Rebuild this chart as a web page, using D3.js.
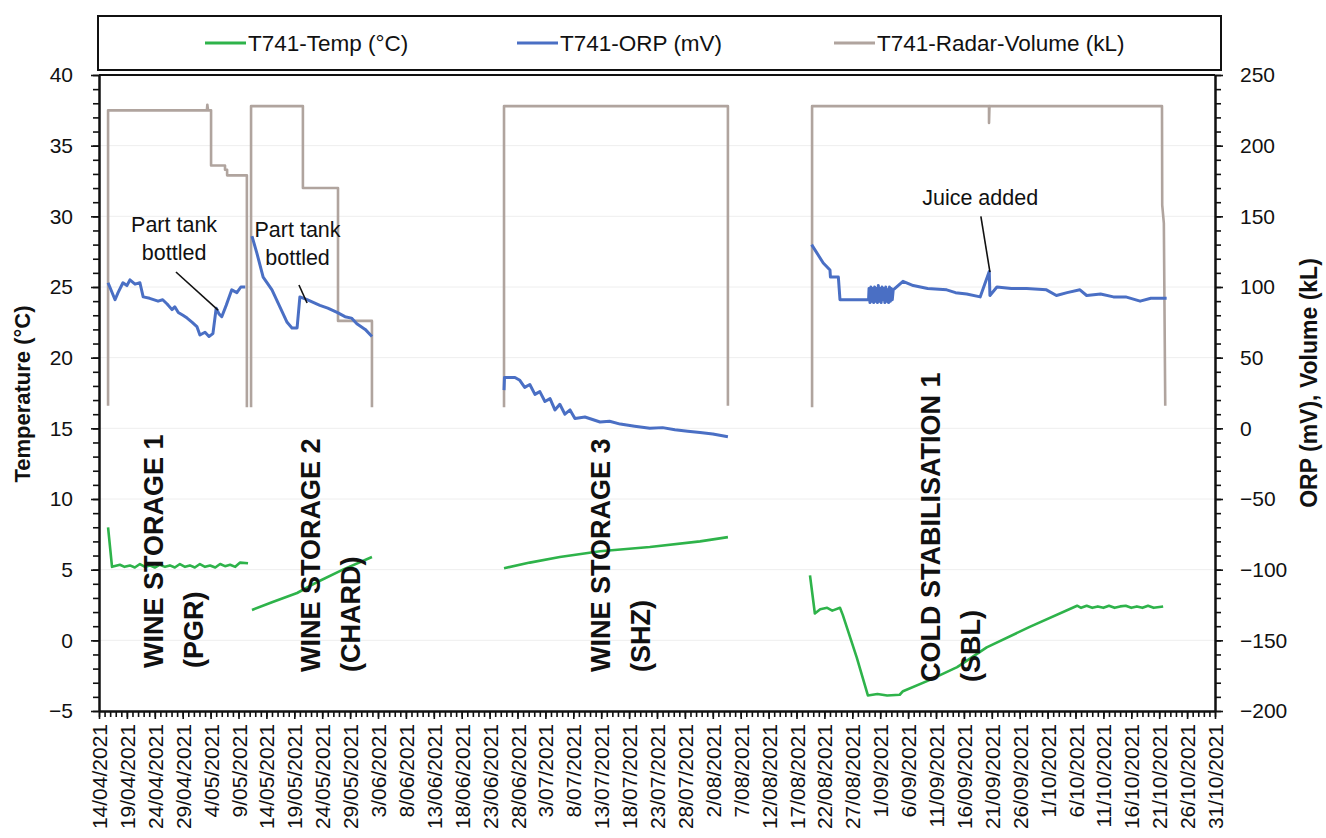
<!DOCTYPE html>
<html><head><meta charset="utf-8">
<script src="https://cdn.jsdelivr.net/npm/d3@7"></script>
<style>
body{margin:0;background:#fff;}
text{font-family:"Liberation Sans",Arial,Helvetica,sans-serif;fill:#111;}
</style>
</head><body>
<svg id="c" width="1326" height="838"></svg>
<script>
// ---------- DATA ----------
const xTickLabels = ["14/04/2021","19/04/2021","24/04/2021","29/04/2021","4/05/2021","9/05/2021","14/05/2021","19/05/2021","24/05/2021","29/05/2021","3/06/2021","8/06/2021","13/06/2021","18/06/2021","23/06/2021","28/06/2021","3/07/2021","8/07/2021","13/07/2021","18/07/2021","23/07/2021","28/07/2021","2/08/2021","7/08/2021","12/08/2021","17/08/2021","22/08/2021","27/08/2021","1/09/2021","6/09/2021","11/09/2021","16/09/2021","21/09/2021","26/09/2021","1/10/2021","6/10/2021","11/10/2021","16/10/2021","21/10/2021","26/10/2021","31/10/2021"];
const tempTicks = [-5,0,5,10,15,20,25,30,35,40];
const orpTicks = [-200,-150,-100,-50,0,50,100,150,200,250];
const seriesNames = ["T741-Temp (°C)","T741-ORP (mV)","T741-Radar-Volume (kL)"];

// Temperature (°C) segments
const tempWS1 = [["2021-04-15T15:00",8.0],["2021-04-16T08:00",5.2],["2021-04-17T18:00",5.35],["2021-04-18T14:00",5.2],["2021-04-19T13:00",5.3],["2021-04-20T10:00",5.15],["2021-04-21T08:00",5.4],["2021-04-22T06:00",5.2],["2021-04-23T03:00",5.3],["2021-04-24T00:00",5.15],["2021-04-24T22:00",5.35],["2021-04-25T20:00",5.2],["2021-04-26T17:00",5.3],["2021-04-27T14:00",5.15],["2021-04-28T12:00",5.4],["2021-04-29T10:00",5.2],["2021-04-30T07:00",5.3],["2021-05-01T04:00",5.15],["2021-05-02T02:00",5.4],["2021-05-03T00:00",5.2],["2021-05-03T22:00",5.3],["2021-05-04T20:00",5.15],["2021-05-05T17:00",5.4],["2021-05-06T14:00",5.25],["2021-05-07T12:00",5.35],["2021-05-08T10:00",5.2],["2021-05-09T07:00",5.5],["2021-05-10T17:00",5.45]];
const tempWS2 = [["2021-05-11T10:00",2.15],["2021-05-15T00:00",2.7],["2021-05-19T12:00",3.35],["2021-05-23T12:00",4.2],["2021-05-27T17:00",5.0],["2021-06-01T22:00",5.9]];
const tempWS3 = [["2021-06-25T14:00",5.1],["2021-06-30T05:00",5.5],["2021-07-05T14:00",5.9],["2021-07-12T19:00",6.3],["2021-07-21T17:00",6.6],["2021-07-30T17:00",7.0],["2021-08-04T17:00",7.3]];
const tempCS1 = [["2021-08-19T10:00",4.6],["2021-08-20T07:00",1.9],["2021-08-21T06:00",2.2],["2021-08-22T12:00",2.3],["2021-08-23T10:00",2.1],["2021-08-24T19:00",2.3],["2021-08-25T07:00",1.8],["2021-08-27T19:00",-1.2],["2021-08-29T19:00",-3.9],["2021-08-31T12:00",-3.8],["2021-09-02T06:00",-3.9],["2021-09-04T12:00",-3.85],["2021-09-05T02:00",-3.6],["2021-09-09T22:00",-2.8],["2021-09-14T19:00",-1.9],["2021-09-20T02:00",-0.5],["2021-09-27T19:00",0.95],["2021-10-06T07:00",2.45],["2021-10-07T00:00",2.3],["2021-10-08T00:00",2.45],["2021-10-09T00:00",2.3],["2021-10-10T00:00",2.4],["2021-10-11T00:00",2.3],["2021-10-12T00:00",2.45],["2021-10-13T00:00",2.3],["2021-10-14T00:00",2.4],["2021-10-15T00:00",2.45],["2021-10-16T00:00",2.3],["2021-10-17T00:00",2.4],["2021-10-18T00:00",2.3],["2021-10-19T00:00",2.45],["2021-10-20T00:00",2.3],["2021-10-21T17:00",2.4]];

// ORP (mV) segments
const orpWS1 = [["2021-04-15T15:00",103],["2021-04-16T21:00",91],["2021-04-17T10:00",96],["2021-04-18T07:00",103],["2021-04-19T00:00",101],["2021-04-19T13:00",105],["2021-04-20T11:00",102],["2021-04-21T08:00",103],["2021-04-21T22:00",93],["2021-04-23T02:00",92],["2021-04-24T14:00",90],["2021-04-25T10:00",91],["2021-04-26T05:00",88],["2021-04-27T02:00",84],["2021-04-27T14:00",86],["2021-04-28T05:00",82],["2021-04-29T01:00",80],["2021-04-29T19:00",78],["2021-04-30T17:00",75],["2021-05-01T13:00",72],["2021-05-02T02:00",66],["2021-05-03T00:00",68],["2021-05-03T17:00",65],["2021-05-04T10:00",67],["2021-05-05T00:00",85],["2021-05-05T12:00",81],["2021-05-06T00:00",79],["2021-05-06T19:00",87],["2021-05-07T19:00",98],["2021-05-08T17:00",96],["2021-05-09T10:00",100],["2021-05-10T05:00",100]];
const orpWS2 = [["2021-05-11T10:00",136],["2021-05-12T07:00",124],["2021-05-13T10:00",107],["2021-05-15T00:00",98],["2021-05-16T10:00",86],["2021-05-17T17:00",75],["2021-05-18T14:00",71],["2021-05-19T12:00",71],["2021-05-20T00:00",93],["2021-05-21T07:00",91],["2021-05-23T14:00",87],["2021-05-25T00:00",85],["2021-05-26T16:00",82],["2021-05-28T02:00",79],["2021-05-29T06:00",78],["2021-05-30T05:00",74],["2021-05-31T17:00",70],["2021-06-01T22:00",65]];
const orpWS3 = [["2021-06-25T14:00",27],["2021-06-25T16:00",36],["2021-06-27T13:00",36],["2021-06-28T10:00",34],["2021-06-29T07:00",29],["2021-06-30T05:00",31],["2021-07-01T03:00",24],["2021-07-02T00:00",26],["2021-07-02T22:00",19],["2021-07-03T20:00",21],["2021-07-04T17:00",13],["2021-07-05T14:00",17],["2021-07-06T12:00",10],["2021-07-07T10:00",13],["2021-07-08T07:00",7],["2021-07-10T02:00",8],["2021-07-12T19:00",4.5],["2021-07-14T12:00",5],["2021-07-16T10:00",3],["2021-07-19T00:00",1.5],["2021-07-21T17:00",0],["2021-07-24T00:00",0.5],["2021-07-26T05:00",-1],["2021-07-28T12:00",-2],["2021-07-30T17:00",-3],["2021-08-02T00:00",-4],["2021-08-04T17:00",-6]];
const orpCS1 = [["2021-08-19T17:00",130],["2021-08-21T19:00",117],["2021-08-23T00:00",112],["2021-08-23T02:00",107],["2021-08-24T12:00",107],["2021-08-24T19:00",91],["2021-08-29T22:00",91],["2021-08-30T00:00",99],["2021-08-30T04:00",89],["2021-08-30T08:00",100],["2021-08-30T12:00",90],["2021-08-30T16:00",99],["2021-08-30T20:00",89],["2021-08-31T00:00",100],["2021-08-31T04:00",90],["2021-08-31T08:00",99],["2021-08-31T12:00",89],["2021-08-31T16:00",101],["2021-08-31T20:00",90],["2021-09-01T00:00",99],["2021-09-01T04:00",89],["2021-09-01T08:00",100],["2021-09-01T12:00",91],["2021-09-01T16:00",99],["2021-09-01T20:00",89],["2021-09-02T00:00",100],["2021-09-02T04:00",90],["2021-09-02T08:00",98],["2021-09-02T12:00",89],["2021-09-02T16:00",100],["2021-09-02T20:00",90],["2021-09-03T00:00",99],["2021-09-03T04:00",91],["2021-09-03T08:00",98],["2021-09-05T02:00",104],["2021-09-06T22:00",101],["2021-09-09T12:00",99],["2021-09-12T22:00",98],["2021-09-14T12:00",96],["2021-09-16T12:00",95],["2021-09-18T22:00",93],["2021-09-20T13:00",111],["2021-09-20T16:00",94],["2021-09-21T22:00",100],["2021-09-24T12:00",99],["2021-09-27T06:00",99],["2021-09-30T19:00",98],["2021-10-02T14:00",94],["2021-10-04T12:00",96],["2021-10-06T19:00",98],["2021-10-08T00:00",94],["2021-10-10T12:00",95],["2021-10-12T19:00",93],["2021-10-15T00:00",93],["2021-10-17T14:00",90],["2021-10-19T12:00",92],["2021-10-22T08:00",92]];

// Radar volume (kL) segments
const volWS1 = [["2021-04-15T15:00",16],["2021-04-15T15:00",225],["2021-05-03T08:00",225],["2021-05-03T10:00",229],["2021-05-03T13:00",225],["2021-05-04T02:00",225],["2021-05-04T02:00",186],["2021-05-06T14:00",186],["2021-05-06T14:00",183],["2021-05-06T23:00",183],["2021-05-06T23:00",179],["2021-05-10T12:00",179],["2021-05-10T12:00",15]];
const volWS2 = [["2021-05-11T06:00",15],["2021-05-11T06:00",228],["2021-05-20T13:00",228],["2021-05-20T13:00",170],["2021-05-26T20:00",170],["2021-05-26T20:00",76],["2021-06-01T22:00",76],["2021-06-01T22:00",15]];
const volWS3 = [["2021-06-25T14:00",15],["2021-06-25T14:00",228],["2021-08-04T17:00",228],["2021-08-04T17:00",16]];
const volCS1 = [["2021-08-19T19:00",15],["2021-08-19T19:00",228],["2021-09-20T12:00",228],["2021-09-20T12:00",216],["2021-09-20T14:00",228],["2021-10-21T12:00",228],["2021-10-21T13:00",158],["2021-10-21T20:00",145],["2021-10-22T02:00",16]];

const tempSegments = [tempWS1, tempWS2, tempWS3, tempCS1];
const orpSegments = [orpWS1, orpWS2, orpWS3, orpCS1];
const volSegments = [volWS1, volWS2, volWS3, volCS1];

const sectionLabels = [["WINE STORAGE 1","(PGR)"],["WINE STORAGE 2","(CHARD)"],["WINE STORAGE 3","(SHZ)"],["COLD STABILISATION 1","(SBL)"]];
const annotations = [
  {lines:["Part tank","bottled"], text:["2021-04-27T11:00",28.9], from:["2021-04-27T19:00",26.06], to:["2021-05-05T08:00",23.37]},
  {lines:["Part tank","bottled"], text:["2021-05-19T14:00",28.55], from:["2021-05-19T20:00",25.14], to:["2021-05-21T07:00",23.87]},
  {lines:["Juice added"], text:["2021-09-18T22:00",30.8], from:["2021-09-19T01:00",30.0], to:["2021-09-20T16:00",26.06]}
];

// ---------- CHART ----------
const colors = ["#2eb34a","#4a6fc4","#b0a49e"];
const parseT = d3.utcParse("%Y-%m-%dT%H:%M");
const parseD = d3.utcParse("%d/%m/%Y");
const L = 99, R = 1215, T = 75, B = 711;
const svg = d3.select("#c");
const labelDates = xTickLabels.map(parseD);
const x = d3.scaleUtc().domain([labelDates[0], labelDates[labelDates.length-1]]).range([L, R]);
const yT = d3.scaleLinear().domain([-5, 40]).range([B, T]);
const yO = d3.scaleLinear().domain([-200, 250]).range([B, T]);

// faint gridlines
svg.append("g").selectAll("line").data(tempTicks.slice(1,-1)).join("line")
  .attr("x1", L).attr("x2", R).attr("y1", d => yT(d)).attr("y2", d => yT(d))
  .attr("stroke", "#eeeeee").attr("stroke-width", 1);

// series
const lineT = d3.line().x(d => x(parseT(d[0]))).y(d => yT(d[1]));
const lineO = d3.line().x(d => x(parseT(d[0]))).y(d => yO(d[1]));
const gSeries = svg.append("g");
gSeries.selectAll(".vol").data(volSegments).join("path").attr("class","vol")
  .attr("d", lineO).attr("fill","none").attr("stroke", colors[2]).attr("stroke-width", 2.6).attr("stroke-linejoin","round");
gSeries.selectAll(".orp").data(orpSegments).join("path").attr("class","orp")
  .attr("d", lineO).attr("fill","none").attr("stroke", colors[1]).attr("stroke-width", 3).attr("stroke-linejoin","round");
gSeries.selectAll(".tmp").data(tempSegments).join("path").attr("class","tmp")
  .attr("d", lineT).attr("fill","none").attr("stroke", colors[0]).attr("stroke-width", 2.6).attr("stroke-linejoin","round");

// top frame line
svg.append("line").attr("x1", L).attr("x2", R).attr("y1", T).attr("y2", T).attr("stroke","#111").attr("stroke-width",2);

// axes
function styleAxis(g){
  g.select(".domain").attr("stroke","#111").attr("stroke-width",2);
  g.selectAll(".tick line").attr("stroke","#111").attr("stroke-width",1.6);
  g.selectAll("text").style("font-size","21px").attr("fill","#111");
}
const dayTicks = d3.utcDay.range(labelDates[0], d3.utcDay.offset(labelDates[labelDates.length-1],1));
svg.append("g").attr("transform",`translate(0,${B})`)
  .call(d3.axisBottom(x).tickValues(dayTicks).tickSize(6).tickSizeOuter(0).tickFormat(""))
  .call(styleAxis);
const gx = svg.append("g").attr("transform",`translate(0,${B})`)
  .call(d3.axisBottom(x).tickValues(labelDates).tickSize(8).tickSizeOuter(0).tickFormat((d,i)=>xTickLabels[i]))
  .call(styleAxis);
gx.selectAll(".tick text").attr("transform","rotate(-90)").attr("x",-13).attr("y",0).attr("dy","0.36em").style("text-anchor","end");

svg.append("g").attr("transform",`translate(${L},0)`)
  .call(d3.axisLeft(yT).tickValues(d3.range(-5,41,1)).tickSize(6).tickSizeOuter(0).tickFormat(""))
  .call(styleAxis);
svg.append("g").attr("transform",`translate(${L},0)`)
  .call(d3.axisLeft(yT).tickValues(tempTicks).tickSize(8).tickSizeOuter(0).tickPadding(18))
  .call(styleAxis);
svg.append("g").attr("transform",`translate(${R},0)`)
  .call(d3.axisRight(yO).tickValues(d3.range(-200,251,10)).tickSize(6).tickSizeOuter(0).tickFormat(""))
  .call(styleAxis);
svg.append("g").attr("transform",`translate(${R},0)`)
  .call(d3.axisRight(yO).tickValues(orpTicks).tickSize(8).tickSizeOuter(0).tickPadding(17))
  .call(styleAxis);

// axis titles
svg.append("text").attr("transform","translate(30,394) rotate(-90)")
  .attr("text-anchor","middle").style("font-size","22px").style("font-weight","bold").text("Temperature (°C)");
svg.append("text").attr("transform","translate(1317,383) rotate(-90)")
  .attr("text-anchor","middle").style("font-size","23px").style("font-weight","bold").text("ORP (mV), Volume (kL)");

// legend
svg.append("rect").attr("x",98).attr("y",16).attr("width",1123).attr("height",54)
  .attr("fill","#fff").attr("stroke","#111").attr("stroke-width",2);
const legX = [205, 517, 834];
seriesNames.forEach((n,i)=>{
  svg.append("line").attr("x1",legX[i]).attr("x2",legX[i]+41).attr("y1",43).attr("y2",43)
    .attr("stroke",colors[i]).attr("stroke-width",3);
  svg.append("text").attr("x",legX[i]+43).attr("y",43).attr("dy","0.36em").style("font-size","22.5px").text(n);
});

// section labels
const secX = [[163,203],[320,360],[610,650],[940,980]];
const secY = [668,672,672,682];
sectionLabels.forEach((s,i)=>{
  [s[0],s[1]].forEach((t,j)=>{
    svg.append("text").attr("transform",`translate(${secX[i][j]},${secY[i]}) rotate(-90)`)
      .style("font-size","27px").style("font-weight","bold").text(t);
  });
});

// annotations
annotations.forEach(a=>{
  const tx = x(parseT(a.text[0])), ty = yT(a.text[1]);
  a.lines.forEach((ln,j)=>{
    svg.append("text").attr("x",tx).attr("y",ty + j*28).attr("text-anchor","middle").style("font-size","21.5px").text(ln);
  });
  svg.append("line").attr("x1",x(parseT(a.from[0]))).attr("y1",yT(a.from[1]))
    .attr("x2",x(parseT(a.to[0]))).attr("y2",yT(a.to[1])).attr("stroke","#111").attr("stroke-width",1.6);
});
</script>
</body></html>
